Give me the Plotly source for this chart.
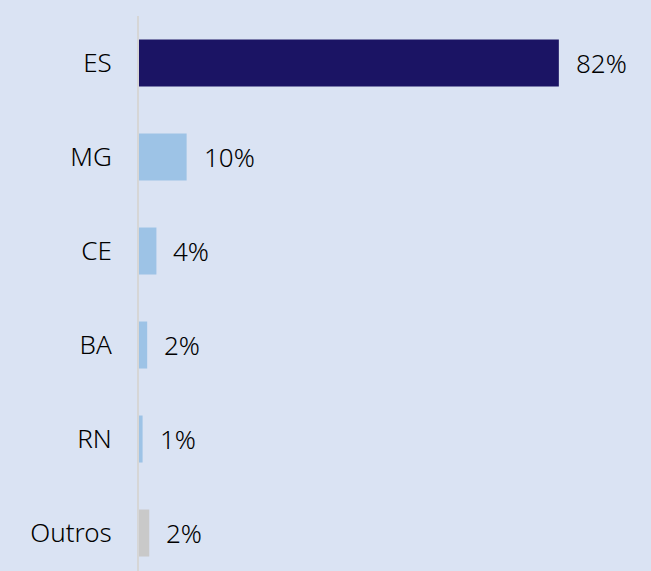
"""Horizontal bar chart: share by state."""

import plotly.graph_objects as go

# Data
categories = ["ES", "MG", "CE", "BA", "RN", "Outros"]
values = [82.0, 9.3, 3.4, 1.6, 0.7, 2.0]
value_labels = ["82%", "10%", "4%", "2%", "1%", "2%"]
bar_colors = ["#1b1464", "#9dc3e6", "#9dc3e6", "#9dc3e6", "#9dc3e6", "#c9c9c9"]

BG = "#dae3f3"
FONT = "Noto Sans, Open Sans, sans-serif"

fig = go.Figure()

fig.add_trace(
    go.Bar(
        x=values,
        y=categories,
        orientation="h",
        marker={"color": bar_colors, "line": {"width": 0}},
        hoverinfo="skip",
    )
)

# Value labels just right of each bar end
for cat, val, lab in zip(categories, values, value_labels):
    fig.add_annotation(
        x=val,
        y=cat,
        text=lab,
        xanchor="left",
        xshift=15,
        showarrow=False,
        font={"family": FONT, "size": 26, "color": "#000000", "weight": 300},
    )

fig.update_layout(
    width=651,
    height=571,
    margin={"l": 139, "r": 0, "t": 16, "b": 0},
    paper_bgcolor=BG,
    plot_bgcolor=BG,
    bargap=0.5,
    showlegend=False,
    font={"family": FONT, "size": 26, "color": "#000000", "weight": 300},
)

fig.update_xaxes(
    range=[0, 100],
    visible=False,
    showgrid=False,
    zeroline=False,
)

fig.update_yaxes(
    range=[5.404, -0.5],
    showgrid=False,
    zeroline=False,
    showline=True,
    linecolor="#d6d6d6",
    linewidth=2,
    ticks="",
    ticklabelstandoff=20,
)

# drop the default page margin so the chart sits at the window corner
fig.write_html(
    "out.html",
    config={"displayModeBar": False},
    post_script="document.body.style.margin='0';",
)
